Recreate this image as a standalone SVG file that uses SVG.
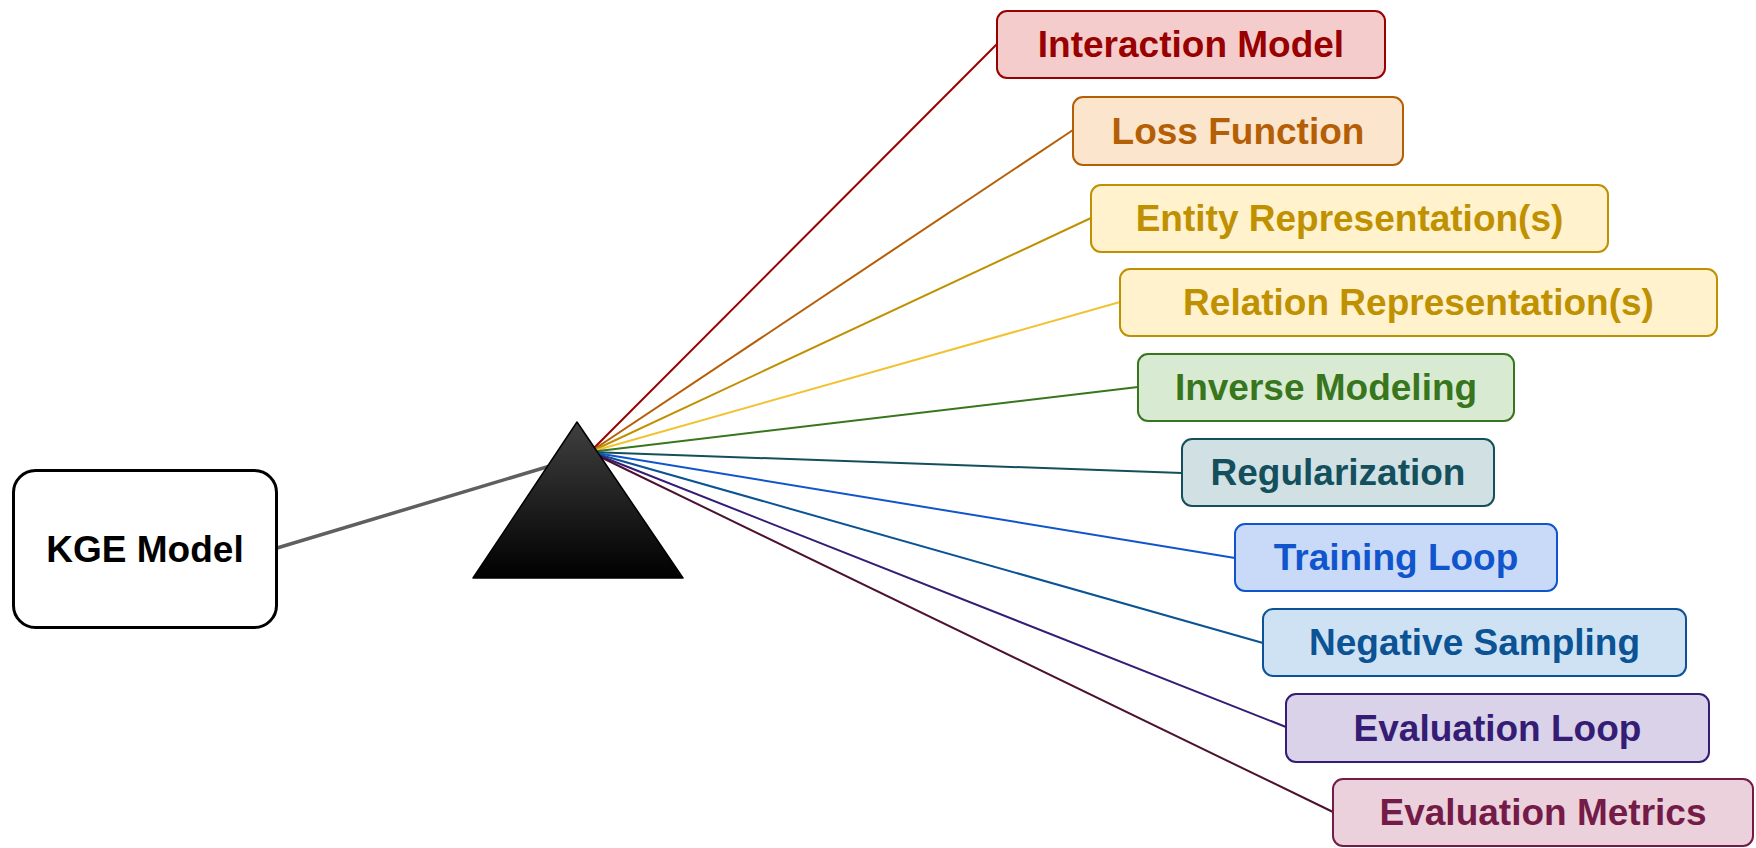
<svg xmlns="http://www.w3.org/2000/svg" width="1756" height="848" viewBox="0 0 1756 848">
  <defs>
    <linearGradient id="prismFill" x1="0" y1="0" x2="0" y2="1">
      <stop offset="0" stop-color="#404040"/>
      <stop offset="1" stop-color="#000000"/>
    </linearGradient>
    <style>
      text { font-family: "Liberation Sans", Arial, sans-serif; font-weight: bold; font-size: 37px; text-anchor: middle; }
      .box { stroke-width: 2; }
      .ray { stroke-width: 2; fill: none; }
    </style>
  </defs>
  <rect width="1756" height="848" fill="#ffffff"/>

  <!-- connectors: incoming beam and outgoing spectrum rays -->
  <g id="connectors">
    <line x1="277" y1="548" x2="560" y2="463" stroke="#5f5f5f" stroke-width="3.5"/>
    <line class="ray" x1="590" y1="452" x2="997" y2="44" stroke="#990000"/>
    <line class="ray" x1="590" y1="452" x2="1073" y2="130" stroke="#b45f06"/>
    <line class="ray" x1="590" y1="452" x2="1091" y2="218" stroke="#bf9000"/>
    <line class="ray" x1="590" y1="452" x2="1120" y2="302" stroke="#f1c232"/>
    <line class="ray" x1="590" y1="452" x2="1138" y2="387" stroke="#38761d"/>
    <line class="ray" x1="590" y1="452" x2="1182" y2="473" stroke="#134f5c"/>
    <line class="ray" x1="590" y1="452" x2="1235" y2="558" stroke="#1155cc"/>
    <line class="ray" x1="590" y1="452" x2="1263" y2="643" stroke="#0b5394"/>
    <line class="ray" x1="590" y1="452" x2="1286" y2="727" stroke="#351c75"/>
    <line class="ray" x1="590" y1="452" x2="1333" y2="812" stroke="#4c1130"/>
  </g>

  <g id="prism">
    <polygon points="577,422 683,578 473,578" fill="url(#prismFill)" stroke="#000000" stroke-width="1.5" stroke-linejoin="round"/>
  </g>

  <g id="kge-model">
    <rect x="13.5" y="470.5" width="263" height="157" rx="22" fill="#ffffff" stroke="#000000" stroke-width="3"/>
    <text x="145" y="562" fill="#000000">KGE Model</text>
  </g>

  <g id="interaction-model">
    <rect class="box" x="997" y="11" width="388" height="67" rx="10" fill="#f4cccc" stroke="#990000"/>
    <text x="1191" y="57" fill="#990000">Interaction Model</text>
  </g>

  <g id="loss-function">
    <rect class="box" x="1073" y="97" width="330" height="68" rx="10" fill="#fce5cd" stroke="#b45f06"/>
    <text x="1238" y="144" fill="#b45f06">Loss Function</text>
  </g>

  <g id="entity-representations">
    <rect class="box" x="1091" y="185" width="517" height="67" rx="10" fill="#fff2cc" stroke="#bf9000"/>
    <text x="1349.5" y="231" fill="#bf9000">Entity Representation(s)</text>
  </g>

  <g id="relation-representations">
    <rect class="box" x="1120" y="269" width="597" height="67" rx="10" fill="#fff2cc" stroke="#bf9000"/>
    <text x="1418.5" y="315" fill="#bf9000">Relation Representation(s)</text>
  </g>

  <g id="inverse-modeling">
    <rect class="box" x="1138" y="354" width="376" height="67" rx="10" fill="#d9ead3" stroke="#38761d"/>
    <text x="1326" y="400" fill="#38761d">Inverse Modeling</text>
  </g>

  <g id="regularization">
    <rect class="box" x="1182" y="439" width="312" height="67" rx="10" fill="#d0e0e3" stroke="#134f5c"/>
    <text x="1338" y="485" fill="#134f5c">Regularization</text>
  </g>

  <g id="training-loop">
    <rect class="box" x="1235" y="524" width="322" height="67" rx="10" fill="#c9daf8" stroke="#1155cc"/>
    <text x="1396" y="570" fill="#1155cc">Training Loop</text>
  </g>

  <g id="negative-sampling">
    <rect class="box" x="1263" y="609" width="423" height="67" rx="10" fill="#cfe2f3" stroke="#0b5394"/>
    <text x="1474.5" y="655" fill="#0b5394">Negative Sampling</text>
  </g>

  <g id="evaluation-loop">
    <rect class="box" x="1286" y="694" width="423" height="68" rx="10" fill="#d9d2e9" stroke="#351c75"/>
    <text x="1497.5" y="741" fill="#351c75">Evaluation Loop</text>
  </g>

  <g id="evaluation-metrics">
    <rect class="box" x="1333" y="779" width="420" height="67" rx="10" fill="#ead1dc" stroke="#741b47"/>
    <text x="1543" y="825" fill="#741b47">Evaluation Metrics</text>
  </g>
</svg>
